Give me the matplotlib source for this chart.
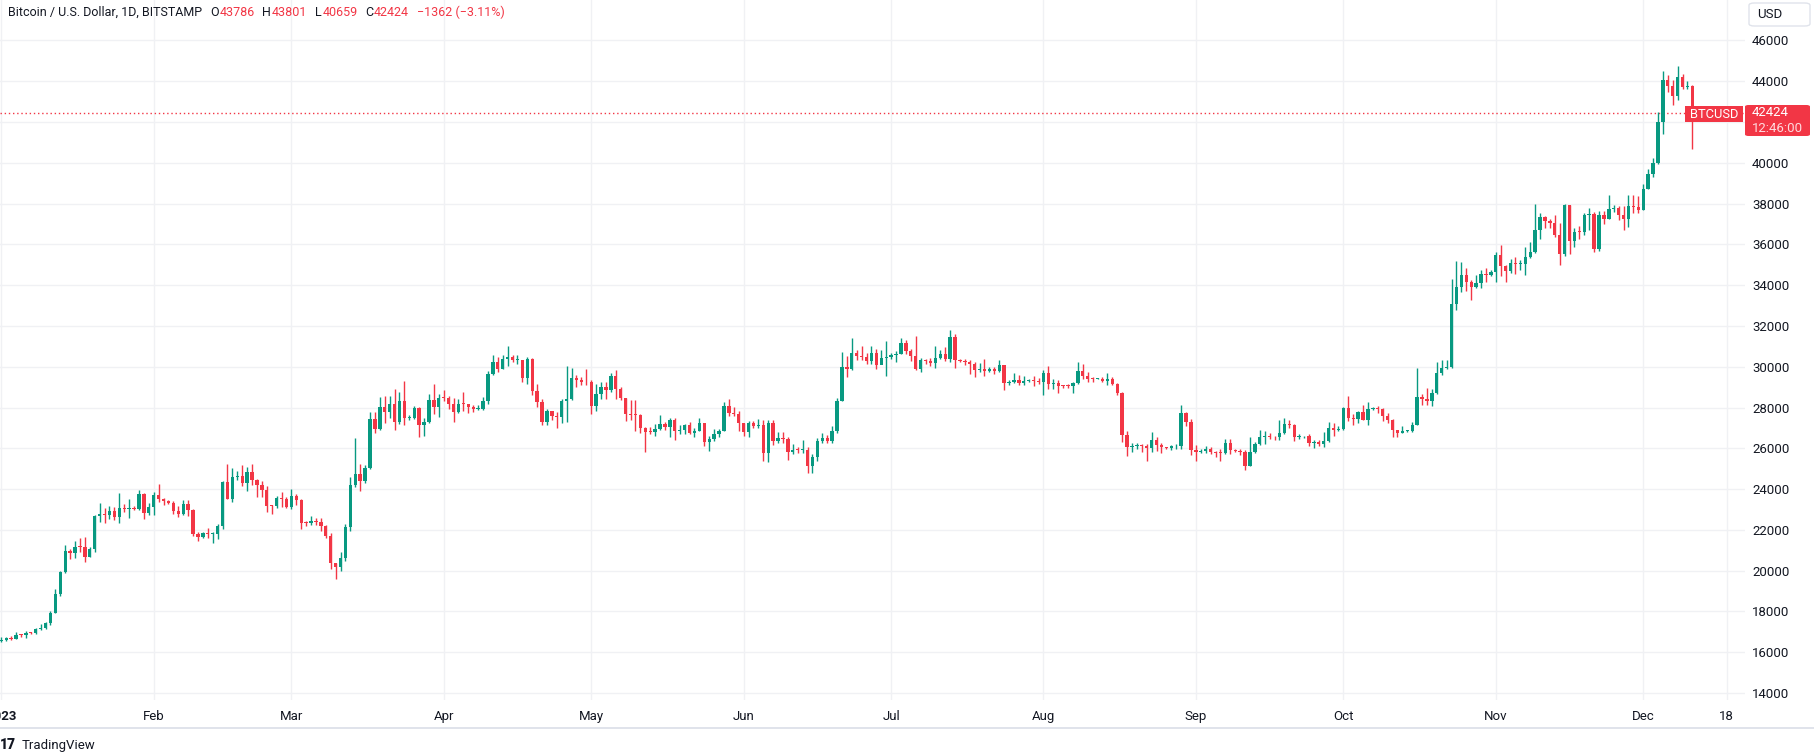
import matplotlib
matplotlib.use("Agg")
import matplotlib.pyplot as plt
from matplotlib.patches import FancyBboxPatch, Rectangle

# ---------------- data (BTC/USD daily, Bitstamp, 2023-01-01 .. 2023-12-11) -------------
first_open = 16540
closes = [
    # Jan
    16615,16680,16670,16850,16830,16950,16940,17120,17180,17440,17940,18850,19930,20960,20880,21180,
    21140,20680,21070,22670,22780,22710,22930,22630,23060,23010,23080,23030,23750,22840,23130,
    # Feb
    23730,23490,23430,23330,22940,22760,23260,22960,21800,21630,21860,21780,21790,22200,24330,23530,
    24580,24640,24300,24840,24440,24190,23940,23190,23150,23560,23490,23140,
    # Mar
    23650,23470,22360,22350,22430,22410,22200,21700,20360,20190,20630,22160,24200,24750,24380,25050,
    27420,26970,28040,27770,28170,27300,28330,27480,27480,28000,27140,27270,28350,28030,28480,
    # Apr
    28460,28180,27800,28180,28170,28030,27920,27950,28330,29650,30230,29900,30400,30490,30320,30320,
    29450,30400,28820,28250,27280,27820,27590,27520,28310,28420,29470,29340,29250,29230,
    # May
    28070,28680,29030,28850,29530,28900,28450,27690,27630,27620,27000,26800,26780,26930,27170,27030,
    27400,26830,26890,27120,26750,26850,27220,26330,26480,26720,26870,28080,27740,27700,27220,
    # Jun
    26820,27250,27070,27120,25750,27240,26340,26500,26480,25840,25940,25900,25920,25120,25580,26340,
    26510,26340,26850,28310,30000,29890,30690,30550,30470,30270,30690,30080,30450,30480,
    # Jul
    30590,30620,31160,30770,30510,29900,30350,30290,30170,30410,30620,30390,31470,30330,30300,30250,
    30140,29860,29910,29800,29910,29800,30080,29180,29230,29350,29220,29310,29350,29280,29230,
    # Aug
    29700,29170,29190,29070,29050,29040,29180,29770,29540,29410,29400,29420,29290,29400,29170,28690,
    26630,26050,26100,26180,26120,26030,26430,26160,26050,26010,26090,26100,27720,27300,25940,
    # Sep
    25800,25870,25970,25820,25780,25750,26240,25900,25880,25830,25130,25840,26220,26530,26600,26570,
    26530,26760,27210,27130,26570,26580,26580,26260,26300,26220,26370,27020,26910,26970,
    # Oct
    27990,27500,27430,27800,27410,27950,27960,27940,27590,27390,26880,26760,26860,26860,27150,28520,
    28410,28320,28720,29690,29920,30010,33090,33920,34500,34150,33910,34090,34550,34500,34660,
    # Nov
    35460,34940,34680,35080,35030,35030,35400,35650,36700,37320,37130,37060,36470,35540,37910,36160,
    36630,36590,37450,37480,35760,37420,37260,37730,37800,37450,37230,37860,37850,37700,
    # Dec
    38700,39460,39980,42000,44080,43750,43260,44210,43720,43786,42424,
]
highs = [
    16760,16760,16780,17000,16900,17030,16980,17180,17390,17490,18000,19120,19990,21250,21070,21460,
    21600,21650,21180,22750,23340,23050,23160,23130,23800,23250,23490,23150,23960,23790,23300,
    23850,24250,23580,23480,23420,23150,23450,23450,23010,21900,21900,22070,21900,22300,24400,25250,
    25020,24870,25200,25100,25250,24480,24410,24130,23200,23680,23880,23620,
    23980,23760,23520,22420,22690,22600,22560,22230,21850,20370,20900,22270,24600,26500,25250,25180,
    27760,27760,28500,28560,28560,28900,28780,29300,27650,28090,28030,27500,28650,29170,28650,
    28840,28550,28490,28440,28770,28190,28120,28140,28530,29780,30600,30500,30600,31000,30600,30560,
    30320,30500,30420,29140,28410,27940,27820,27800,28410,30020,29940,29590,29510,29880,
    29330,29170,29270,29260,29700,29820,29000,28480,28370,28370,27660,27050,27030,27200,27650,27300,
    27480,27480,27150,27190,27270,27020,27470,27240,26600,26940,26950,28260,28440,28030,27850,
    27220,27330,27330,27450,27400,27380,27400,26800,26780,26550,26200,26040,26400,26040,25720,26490,
    26770,26670,27090,28450,30740,30530,31420,30820,31000,30680,31040,30880,30840,31280,
    30680,30790,31400,31330,30880,31500,30450,30370,30420,31030,30820,30980,31800,31620,30400,30400,
    30330,30220,30190,30380,30000,29980,30330,30080,29370,29680,29580,29530,29420,29540,29460,
    29840,30050,29410,29330,29120,29160,29270,30220,30110,29720,29490,29470,29480,29680,29480,29220,
    28780,26830,26250,26270,26220,26220,26800,26560,26240,26060,26160,26200,28140,27770,27420,
    26150,25950,26100,26040,25850,25950,26450,26450,25950,25980,25900,26550,26290,26900,26870,26750,
    26620,27400,27470,27400,27190,26710,26620,26710,26420,26390,26800,27290,27230,27100,
    28030,28580,27680,27830,28140,28270,28010,28060,27970,27710,27420,26900,27080,26900,27300,29920,
    28640,28980,28900,30250,30350,30350,34280,35200,35160,34860,34240,34520,34760,34860,34760,
    35640,35980,35010,35280,35360,35230,35880,36100,37990,37530,37390,37230,37420,37040,37990,37940,
    36820,36890,37520,37790,37580,37620,37620,38440,37930,37860,37870,38410,38430,38370,
    38980,39720,40220,42470,44500,44300,44080,44770,44370,43990,43801,
]
lows = [
    16490,16550,16600,16650,16750,16680,16900,16910,17100,17140,17320,17900,18750,19890,20560,20620,
    20900,20400,20660,20900,22400,22350,22530,22460,22340,22900,22560,22950,22980,22540,22720,
    22750,23360,23200,23250,22760,22630,22750,22660,21700,21450,21600,21600,21370,21530,22050,23500,
    23350,24450,24150,23900,24180,23600,23600,22870,22760,23080,23100,23050,
    23020,23230,22030,22200,22230,22250,21940,21600,20060,19590,19960,20460,21950,24100,23930,24300,
    25000,26750,26900,27240,27480,26900,27170,27130,27380,27450,26550,26600,27220,27700,27550,
    28300,27950,27280,27750,27850,27730,27800,27880,27880,28180,29600,29750,29890,30050,30230,30120,
    29270,29150,28610,28030,27140,27140,27370,27000,27250,27270,28380,28990,29120,29100,
    27670,27840,28400,28440,28760,28400,28380,27330,27380,26860,26760,25820,26700,26600,26880,26880,
    26570,26400,26700,26690,26680,26550,26840,26100,25870,26340,26560,26850,27580,27580,26870,
    26600,26570,26980,26980,25380,25350,26180,26240,26270,25450,25730,25750,25760,24800,24770,25400,
    26280,26250,26260,26730,28330,29520,29860,30340,30330,30120,30120,29880,30170,29530,
    30400,30230,30620,30620,30270,29850,29720,30130,30040,29960,30380,30260,30230,29950,30240,30090,
    29650,29520,29750,29560,29730,29650,29740,28880,29090,29180,29110,29080,29260,29050,29150,
    28600,28930,28920,28720,28980,28970,28690,29130,29410,29250,29250,29380,29250,29100,29100,28620,
    26330,25620,25810,25990,25820,25380,25820,25880,25770,25950,25910,25980,25990,27080,25660,
    25380,25780,25780,25700,25580,25400,25700,25700,25820,25650,24940,25130,25750,26180,26230,26480,
    26420,26390,26700,27000,26370,26460,26510,26130,26000,26120,26060,26300,26580,26830,
    26910,27330,27140,27230,27390,27130,27880,27720,27340,27220,26540,26530,26730,26820,26810,27120,
    28110,28100,28090,28650,29610,29880,29950,32800,33660,33700,33290,33870,33860,34140,34470,
    34140,34450,34140,34620,34560,34750,34520,35330,35600,36270,36780,36820,36380,34990,35410,35530,
    35880,36260,36480,36710,35650,35690,37000,37250,37610,37180,36690,36870,37520,37520,
    37700,38700,39330,39960,41420,43450,42850,43100,43610,43640,40659,
]
opens = [first_open] + closes[:-1]

tick_days = [0, 31, 59, 90, 120, 151, 181, 212, 243, 273, 304, 334, 351]
tick_labels = ["2023", "Feb", "Mar", "Apr", "May", "Jun", "Jul", "Aug", "Sep", "Oct", "Nov", "Dec", "18"]
price_ticks = list(range(14000, 46001, 2000))
last_price = 42424
title_main = "Bitcoin / U.S. Dollar, 1D, BITSTAMP"
ohlc_text = [("O", "43786"), ("H", "43801"), ("L", "40659"), ("C", "42424")]
change_text = "\u22121362 (\u22123.11%)"

# ---------------- style -------------
UP = "#089981"
DOWN = "#F23645"
TXT = "#131722"
GRID = "#F0F1F4"
plt.rcParams["font.family"] = ["Roboto", "DejaVu Sans"]

W, H = 1815, 754
fig = plt.figure(figsize=(W / 100, H / 100), dpi=100)
fig.patch.set_facecolor("white")

pane_right = 1745
pane_bottom = 700
ax = fig.add_axes([0, (H - pane_bottom) / H, pane_right / W, pane_bottom / H])
ax.set_facecolor("white")
for s in ax.spines.values():
    s.set_visible(False)

# axis scales
x0_px, px_per_day = 1.3, 4.916
ax.set_xlim(-x0_px / px_per_day, (pane_right - x0_px) / px_per_day)
px_per_k = 20.39
y46 = 40.5
ax.set_ylim(46000 - (pane_bottom - y46) / px_per_k * 1000, 46000 + y46 / px_per_k * 1000)

# grid
for d in tick_days:
    ax.axvline(d, color=GRID, lw=1, zorder=0)
for p in price_ticks:
    ax.axhline(p, color=GRID, lw=1, zorder=0)

# candles
n = len(closes)
days = list(range(n))
colors = [UP if closes[i] >= opens[i] else DOWN for i in range(n)]
ax.vlines(days, lows, highs, colors=colors, lw=1.0, zorder=2)
min_h = 45
bottoms = [min(opens[i], closes[i]) for i in range(n)]
heights = [max(abs(closes[i] - opens[i]), min_h) for i in range(n)]
ax.bar(days, heights, bottom=bottoms, width=0.68, color=colors, linewidth=0, zorder=3)

# last price line
ax.axhline(last_price, color=DOWN, lw=1, ls=(0, (1, 2)), zorder=1)

# ticks
ax.set_xticks(tick_days)
ax.set_xticklabels(tick_labels)
ax.tick_params(axis="x", length=0, pad=7, labelsize=9.5, labelcolor=TXT)
ax.get_xticklabels()[0].set_fontweight("bold")
ax.yaxis.tick_right()
ax.set_yticks(price_ticks)
ax.set_yticklabels([str(p) for p in price_ticks])
ax.tick_params(axis="y", length=0, pad=5, labelsize=9.5, labelcolor=TXT)


def fx(px):
    return px / W


def fy(py):
    return 1 - py / H


# bottom border
fig.add_artist(Rectangle((0, fy(729)), 1, 2 / H, transform=fig.transFigure,
                         facecolor="#E0E3EB", edgecolor="none"))

# USD box
fig.add_artist(FancyBboxPatch((fx(1749), fy(26)), 61 / W, 23 / H,
                              boxstyle="round,pad=0,rounding_size=0.003",
                              transform=fig.transFigure, facecolor="white",
                              edgecolor="#E0E3EB", lw=1))
fig.text(fx(1757), fy(14), "USD", fontsize=9.5, color=TXT, va="center", ha="left")

# BTCUSD tag
fig.add_artist(Rectangle((fx(1685), fy(122)), 58 / W, 16 / H, transform=fig.transFigure,
                         facecolor=DOWN, edgecolor="none"))
fig.text(fx(1714), fy(114), "BTCUSD", fontsize=9.3, color="white", va="center", ha="center")
# price tag
fig.add_artist(FancyBboxPatch((fx(1745), fy(136)), 65 / W, 31 / H,
                              boxstyle="round,pad=0,rounding_size=0.002",
                              transform=fig.transFigure, facecolor=DOWN, edgecolor="none"))
fig.text(fx(1752), fy(113), str(last_price), fontsize=9.5, color="white", va="center", ha="left")
fig.text(fx(1752), fy(128), "12:46:00", fontsize=9.5, color="#FFD9DD", va="center", ha="left")

# title
renderer = fig.canvas.get_renderer()
xcur = 8
ty = fy(12)


def put(s, color, gap_after):
    global xcur
    t = fig.text(fx(xcur), ty, s, fontsize=9.0, color=color, va="center", ha="left")
    bb = t.get_window_extent(renderer=renderer)
    xcur += bb.width + gap_after


put(title_main, TXT, 8)
for lab, val in ohlc_text:
    put(lab, TXT, 0.5)
    put(val, DOWN, 8)
put(change_text, DOWN, 0)

# TradingView logo
fig.text(fx(0), fy(745), "17", fontsize=10, fontweight="black", color=TXT, va="center", ha="left")
fig.text(fx(22), fy(745), "TradingView", fontsize=9.5, color=TXT, va="center", ha="left")

fig.savefig("out.png", dpi=100, facecolor="white")
